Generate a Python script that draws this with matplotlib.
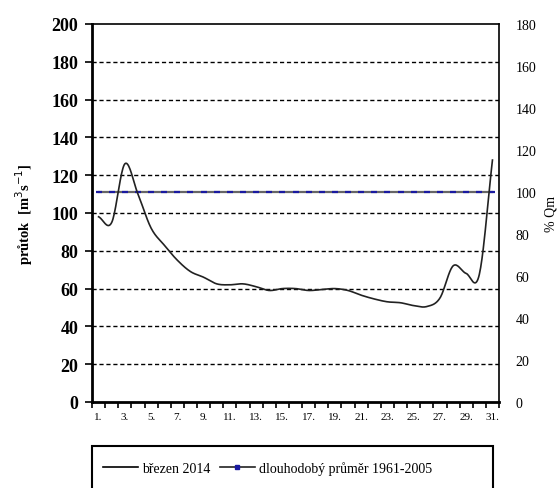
import numpy as np
import matplotlib.pyplot as plt
from matplotlib.lines import Line2D
from matplotlib.patches import Rectangle

plt.rcParams['font.family'] = ['Liberation Serif', 'DejaVu Serif']

# denni prutoky, brezen 2014 [m3/s]
days = list(range(1, 32))
flow = [98, 95, 126, 110, 92, 83, 75, 69, 66, 62.5, 62, 62.5, 61, 59, 60, 60,
        59, 59.5, 60, 59, 56.5, 54.5, 53, 52.5, 51, 50.5, 55, 72, 68, 67.5, 128]
qm = 111.1          # dlouhodoby prumer 1961-2005
xlabels = [f'{d}.' for d in days[::2]]
label_series = 'březen 2014'
label_mean = 'dlouhodobý průměr 1961-2005'


def smooth(x, y, n=20):
    # catmull-rom, podobne jako vyhlazena cara v Excelu
    x = np.asarray(x, float)
    y = np.asarray(y, float)
    px = np.concatenate([[2 * x[0] - x[1]], x, [2 * x[-1] - x[-2]]])
    py = np.concatenate([[2 * y[0] - y[1]], y, [2 * y[-1] - y[-2]]])
    xs, ys = [], []
    t = np.linspace(0, 1, n, endpoint=False)
    for i in range(1, len(px) - 2):
        for p, out in ((px, xs), (py, ys)):
            p0, p1, p2, p3 = p[i - 1], p[i], p[i + 1], p[i + 2]
            out.extend(0.5 * (2 * p1 + (-p0 + p2) * t
                              + (2 * p0 - 5 * p1 + 4 * p2 - p3) * t ** 2
                              + (-p0 + 3 * p1 - 3 * p2 + p3) * t ** 3))
    xs.append(x[-1])
    ys.append(y[-1])
    return np.array(xs), np.array(ys)


fig = plt.figure(figsize=(5.58, 4.89), dpi=100)
ax = fig.add_axes([0.1649, 0.1759, 0.7294, 0.773])

for v in range(20, 200, 20):
    ax.axhline(v, color='black', lw=1.0, ls=(0, (3, 2)), zorder=1)

sx, sy = smooth(days, flow)
ax.plot(sx, sy, color='#222222', lw=1.2, zorder=3)
ax.plot(days, [qm] * len(days), color='#666666', lw=1.6, zorder=2)
ax.plot(days, [qm] * len(days), ls='none', marker='_', ms=5, mew=1.6,
        color='#1a1aa0', zorder=2)

ax.set_xlim(0.5, 31.5)
ax.set_ylim(0, 200)
ax.set_yticks(range(0, 201, 20))
ax.set_xticks(days[::2])
ax.set_xticklabels(xlabels, fontsize=8)
ax.set_xticks(np.arange(0.5, 32, 1), minor=True)
ax.tick_params(axis='x', which='major', length=0, pad=7)
ax.tick_params(axis='x', which='minor', length=4, width=1.2)
ax.tick_params(axis='y', length=5, width=1.2, labelsize=13, pad=5)
for t in ax.get_yticklabels():
    t.set_fontweight('bold')

ax.spines['left'].set_linewidth(2)
ax.spines['bottom'].set_linewidth(2)
ax.spines['top'].set_linewidth(1.2)
ax.spines['right'].set_linewidth(1.2)

ax.set_ylabel('průtok  [m$^3$s$^{-1}$]', fontsize=10.5, fontweight='bold', labelpad=12)

ax2 = ax.twinx()
ax2.set_ylim(0, 180)
ax2.set_yticks(range(0, 181, 20))
ax2.tick_params(axis='y', length=0, labelsize=10, pad=12)
for s in ax2.spines.values():
    s.set_visible(False)
ax2.set_ylabel('% Qm', fontsize=10, labelpad=6)

# ramecek legendy (spodni okraj je oriznuty)
fig.patches.append(Rectangle((92 / 558, -0.02), (493 - 92) / 558, 0.02 + 1 - 447 / 489,
                             transform=fig.transFigure, fill=False,
                             edgecolor='black', lw=1.5))
handles = [Line2D([], [], color='black', lw=1.2),
           Line2D([], [], color='#222222', lw=1.2, marker='s', ms=2.5,
                  mfc='#1a1aa0', mec='#1a1aa0')]
leg = fig.legend(handles, [label_series, label_mean], loc='center left',
                 bbox_to_anchor=(103 / 558, 1 - 469 / 489),
                 ncol=2, fontsize=10, frameon=False,
                 handlelength=2.5, handletextpad=0.3, columnspacing=0.7,
                 borderaxespad=0, borderpad=0)

fig.savefig('out.png', dpi=100)
